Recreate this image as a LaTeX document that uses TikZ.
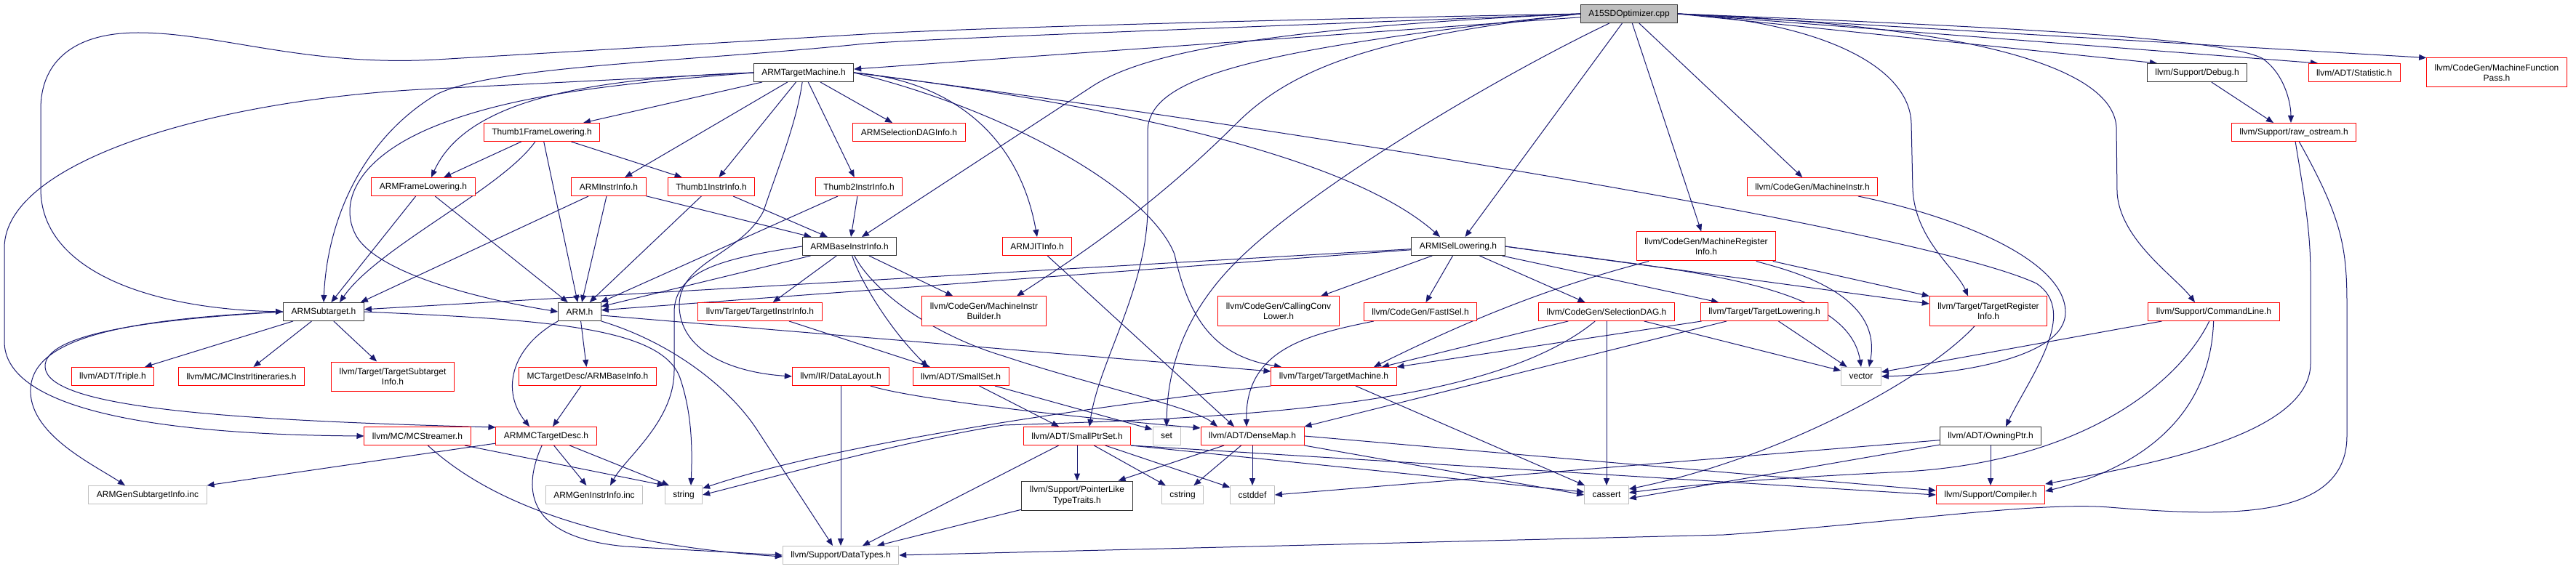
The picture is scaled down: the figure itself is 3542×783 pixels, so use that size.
\documentclass[tikz,border=0pt]{standalone}
\usepackage{fontspec}
\setmainfont{Liberation Sans}
\usetikzlibrary{arrows.meta}
\pgfdeclarelayer{bg}
\pgfsetlayers{bg,main}
\definecolor{edgec}{HTML}{191970}
\definecolor{grayb}{HTML}{BFBFBF}
\definecolor{redb}{HTML}{FF0000}
\tikzset{
  nb/.style={rectangle, draw, line width=1pt, fill=white, minimum height=25pt, inner xsep=11pt, inner ysep=1pt, align=center, font=\fontsize{12}{14.3}\selectfont},
  rb/.style={nb, draw=redb},
  kb/.style={nb, draw=black!80},
  gb/.style={nb, draw=grayb},
  fb/.style={nb, draw=black!80, fill=grayb},
  tall/.style={minimum height=40pt},
  edg/.style={draw=edgec, line width=1pt, -{Triangle[length=10pt,width=8pt]}},
}
\begin{document}
\begin{tikzpicture}[x=1pt,y=-1pt]
\useasboundingbox (0,0) rectangle (3542,783);
% nodes
\node[fb] (a15) at (2240,19) {A15SDOptimizer.cpp};
\node[kb] (atm) at (1105,100) {ARMTargetMachine.h};
\node[kb] (debug) at (3021,100) {llvm/Support/Debug.h};
\node[rb] (stat) at (3237,100) {llvm/ADT/Statistic.h};
\node[rb,tall] (mfp) at (3433,100) {llvm/CodeGen/MachineFunction\\Pass.h};
\node[rb] (t1fl) at (745,182) {Thumb1FrameLowering.h};
\node[rb] (sdi) at (1250,182) {ARMSelectionDAGInfo.h};
\node[rb] (raw) at (3154,182) {llvm/Support/raw\_ostream.h};
\node[rb] (afl) at (582,257) {ARMFrameLowering.h};
\node[rb] (ainstr) at (837,257) {ARMInstrInfo.h};
\node[rb] (t1ii) at (978,257) {Thumb1InstrInfo.h};
\node[rb] (t2ii) at (1181,257) {Thumb2InstrInfo.h};
\node[rb] (minstr) at (2492,257) {llvm/CodeGen/MachineInstr.h};
\node[kb] (abii) at (1168,339) {ARMBaseInstrInfo.h};
\node[rb] (jit) at (1426,339) {ARMJITInfo.h};
\node[kb] (isel) at (2005,339) {ARMISelLowering.h};
\node[rb,tall] (mri) at (2346,339) {llvm/CodeGen/MachineRegister\\Info.h};
\node[kb] (asub) at (445,429) {ARMSubtarget.h};
\node[kb] (armh) at (797,429) {ARM.h};
\node[rb] (tii) at (1045,429) {llvm/Target/TargetInstrInfo.h};
\node[rb,tall] (mib) at (1353,428) {llvm/CodeGen/MachineInstr\\Builder.h};
\node[rb,tall] (ccl) at (1758,428) {llvm/CodeGen/CallingConv\\Lower.h};
\node[rb] (fisel) at (1953,429) {llvm/CodeGen/FastISel.h};
\node[rb] (sdag) at (2209,429) {llvm/CodeGen/SelectionDAG.h};
\node[rb] (tlow) at (2426,429) {llvm/Target/TargetLowering.h};
\node[rb,tall] (tri) at (2734,428) {llvm/Target/TargetRegister\\Info.h};
\node[rb] (cl) at (3044,429) {llvm/Support/CommandLine.h};
\node[rb] (triple) at (155,518) {llvm/ADT/Triple.h};
\node[rb] (mcii) at (332,518) {llvm/MC/MCInstrItineraries.h};
\node[rb,tall] (tsi) at (540,518) {llvm/Target/TargetSubtarget\\Info.h};
\node[rb] (abi) at (808,518) {MCTargetDesc/ARMBaseInfo.h};
\node[rb] (dl) at (1156,518) {llvm/IR/DataLayout.h};
\node[rb] (sset) at (1321,518) {llvm/ADT/SmallSet.h};
\node[rb] (tm) at (1834,518) {llvm/Target/TargetMachine.h};
\node[gb] (vec) at (2559,518) {vector};
\node[rb] (mcs) at (574,600) {llvm/MC/MCStreamer.h};
\node[rb] (mctd) at (751,600) {ARMMCTargetDesc.h};
\node[rb] (sps) at (1481,600) {llvm/ADT/SmallPtrSet.h};
\node[gb] (set) at (1604,600) {set};
\node[rb] (dm) at (1722,600) {llvm/ADT/DenseMap.h};
\node[kb] (owp) at (2737,600) {llvm/ADT/OwningPtr.h};
\node[gb] (gsub) at (203,681) {ARMGenSubtargetInfo.inc};
\node[gb] (ginc) at (817,681) {ARMGenInstrInfo.inc};
\node[gb] (str) at (940,681) {string};
\node[kb,tall] (plt) at (1481,682) {llvm/Support/PointerLike\\TypeTraits.h};
\node[gb] (cstr) at (1626,681) {cstring};
\node[gb] (cdef) at (1722,681) {cstddef};
\node[gb] (cas) at (2209,681) {cassert};
\node[rb] (comp) at (2737,681) {llvm/Support/Compiler.h};
\node[gb] (dt) at (1156,764) {llvm/Support/DataTypes.h};
% edges
\begin{pgfonlayer}{bg}
% A15SDOptimizer.cpp
\draw[edg] (a15) -- (atm);
\draw[edg] (a15.west) .. controls (1700,28) and (1300,40) .. (1190,47) -- (600,82) .. controls (420,92) and (300,45) .. (190,45) .. controls (95,45) and (56,90) .. (56,150) -- (56,260) .. controls (56,370) and (200,425) .. (asub.west);
\draw[edg] (a15.west) .. controls (1650,40) and (1300,52) .. (1190,60) .. controls (950,85) and (680,90) .. (600,130) .. controls (500,190) and (450,300) .. (asub.north);
\draw[edg] (a15.west) .. controls (1700,40) and (1560,80) .. (1500,120) -- ([xshift=17pt]abii.north);
\draw[edg] (a15.west) .. controls (1900,50) and (1780,90) .. (1700,170) .. controls (1580,290) and (1470,360) .. ([xshift=45pt]mib.north);
\draw[edg] (a15.west) .. controls (1700,70) and (1580,110) .. (1578,180) -- (1578,290) .. controls (1576,400) and (1510,500) .. ([xshift=17pt]sps.north);
\draw[edg] (a15) .. controls (2050,110) and (1800,260) .. (1700,360) .. controls (1620,440) and (1605,520) .. (set.north);
\draw[edg] (a15) -- (isel);
\draw[edg] (a15) -- (mri);
\draw[edg] (a15) -- (minstr);
\draw[edg] (a15.east) .. controls (2500,30) and (2626,90) .. (2628,170) -- (2630,260) .. controls (2633,330) and (2690,370) .. ([xshift=-28pt]tri.north);
\draw[edg] (a15.east) .. controls (2700,35) and (2905,90) .. (2910,175) -- (2911,265) .. controls (2915,330) and (2990,380) .. ([xshift=-26pt]cl.north);
\draw[edg] (a15.east) .. controls (2700,35) and (3050,50) .. (3110,80) .. controls (3140,100) and (3150,140) .. ([xshift=-4pt]raw.north);
\draw[edg] (a15.east) -- ([xshift=-55pt]debug.north);
\draw[edg] (a15.east) -- ([xshift=-50pt]stat.north);
\draw[edg] (a15.east) -- (mfp.north west);
% ARMTargetMachine.h
\draw[edg] (atm.west) -- (600,122) .. controls (300,135) and (8,220) .. (6,340) -- (6,470) .. controls (6,560) and (200,598) .. (mcs.west);
\draw[edg] (atm.west) .. controls (850,115) and (700,130) .. (590,177) .. controls (490,220) and (465,280) .. (490,325) .. controls (520,375) and (650,410) .. (armh.west);
\draw[edg] (atm.west) .. controls (800,108) and (640,140) .. ([xshift=11pt]afl.north);
\draw[edg] (atm) -- (t1fl);
\draw[edg] (atm) -- (ainstr);
\draw[edg] (atm) -- (t1ii);
\draw[edg] (atm) -- (t2ii);
\draw[edg] (atm) -- (sdi);
\draw[edg] (atm) .. controls (1095,170) and (1070,230) .. (1050,290) .. controls (1020,350) and (934,360) .. (934,420) .. controls (934,480) and (1000,512) .. (dl.west);
\draw[edg] (atm.east) .. controls (1300,110) and (1400,180) .. (jit.north);
\draw[edg] (atm.east) .. controls (1500,140) and (1850,210) .. ([xshift=-25pt]isel.north);
\draw[edg] (atm.east) .. controls (1800,180) and (2650,320) .. (2800,390) .. controls (2860,430) and (2790,520) .. ([xshift=21pt]owp.north);
\draw[edg] (atm.east) .. controls (1380,150) and (1580,260) .. (1615,350) .. controls (1635,440) and (1670,490) .. ([xshift=-72pt]tm.north);
% frame lowering / instr info
\draw[edg] (afl) -- (asub);
\draw[edg] (afl) -- (armh);
\draw[edg] (t1fl) -- (afl);
\draw[edg] (t1fl) .. controls (690,260) and (520,340) .. ([xshift=22pt]asub.north);
\draw[edg] (t1fl) -- (armh);
\draw[edg] (t1fl) -- (t1ii);
\draw[edg] (ainstr) -- (abii);
\draw[edg] (ainstr) -- (armh);
\draw[edg] (ainstr) -- ([xshift=-5pt]asub.north east);
\draw[edg] (t1ii) -- (armh);
\draw[edg] (t1ii) -- (abii);
\draw[edg] (t2ii) -- (armh);
\draw[edg] (t2ii) -- (abii);
% ARMBaseInstrInfo.h
\draw[edg] (abii) -- (armh);
\draw[edg] (abii.west) .. controls (1000,355) and (927,370) .. (927,430) -- (927,510) .. controls (927,580) and (860,630) .. ([xshift=22pt]ginc.north);
\draw[edg] (abii) -- (tii);
\draw[edg] (abii) -- (mib);
\draw[edg] (abii) .. controls (1180,380) and (1220,450) .. ([xshift=-45pt]sset.north);
\draw[edg] (abii) .. controls (1200,400) and (1280,460) .. (1380,490) .. controls (1500,530) and (1640,560) .. ([xshift=-48pt]dm.north);
\draw[edg] (jit) -- ([xshift=-25pt]dm.north);
% ARMISelLowering.h
\draw[edg] (isel) -- (asub);
\draw[edg] (isel) -- (armh);
\draw[edg] (isel) -- ([xshift=58pt]ccl.north);
\draw[edg] (isel) -- (fisel);
\draw[edg] (isel) -- (sdag);
\draw[edg] (isel) -- ([xshift=-63pt]tlow.north);
\draw[edg] (isel.east) -- ([yshift=10pt]tri.west);
\draw[edg] (isel.east) .. controls (2300,372) and (2540,385) .. (vec.north);
% MachineRegisterInfo / MachineInstr
\draw[edg] (mri) .. controls (2150,390) and (2040,430) .. ([xshift=55pt]tm.north);
\draw[edg] (mri) -- (tri.north west);
\draw[edg] (mri) .. controls (2450,370) and (2590,400) .. ([xshift=11pt]vec.north);
\draw[edg] (minstr) .. controls (2700,300) and (2840,360) .. (2840,430) .. controls (2840,490) and (2700,515) .. (vec.east);
% SelectionDAG / TargetLowering / TargetRegisterInfo
\draw[edg] (sdag) -- ([xshift=66pt]tm.north);
\draw[edg] (sdag) .. controls (2050,560) and (1700,575) .. (1380,585) .. controls (1250,605) and (1050,660) .. (str.east);
\draw[edg] (sdag) -- (cas);
\draw[edg] (sdag) -- ([yshift=8pt]vec.west);
\draw[edg] (tlow) -- (tm.north east);
\draw[edg] (tlow) -- (dm.north east);
\draw[edg] (tlow) -- (vec);
\draw[edg] (tri) .. controls (2650,520) and (2450,630) .. ([yshift=8pt]cas.east);
% CommandLine / raw_ostream / Debug
\draw[edg] (cl) -- ([yshift=6pt]vec.east);
\draw[edg] (cl) .. controls (3000,520) and (2870,640) .. (2600,650) .. controls (2400,660) and (2300,670) .. ([yshift=3pt]cas.east);
\draw[edg] (cl) .. controls (3040,560) and (2960,640) .. ([yshift=5pt]comp.east);
\draw[edg] (raw) .. controls (3170,280) and (3177,320) .. (3177,380) -- (3177,500) .. controls (3177,600) and (2950,640) .. ([yshift=15pt]comp.east);
\draw[edg] (raw) .. controls (3220,300) and (3227,340) .. (3227,420) -- (3227,600) .. controls (3227,720) and (3050,710) .. (2900,698) .. controls (2800,690) and (2600,720) .. (2370,736) -- (dt.east);
\draw[edg] (debug) -- ([xshift=-28pt]raw.north);
% OwningPtr
\draw[edg] (owp) -- (comp);
\draw[edg] (owp) -- ([yshift=-5pt]cas.east);
\draw[edg] (owp) -- (cdef.east);
% TargetMachine / DataLayout / SmallSet / TargetInstrInfo / FastISel
\draw[edg] (tm) -- (cas);
\draw[edg] (tm.south west) .. controls (1500,560) and (1150,610) .. ([yshift=9pt]str.east);
\draw[edg] (dl) -- (dt);
\draw[edg] (dl) .. controls (1250,548) and (1450,572) .. ([yshift=-2pt]dm.north west);
\draw[edg] (sset) -- ([xshift=-25pt]sps.north);
\draw[edg] (sset) -- ([yshift=9pt]set.west);
\draw[edg] (tii) -- ([xshift=-42pt]sset.north);
\draw[edg] (fisel) .. controls (1800,460) and (1712,480) .. ([xshift=-8pt]dm.north);
% SmallPtrSet / DenseMap / PointerLikeTypeTraits
\draw[edg] (sps) -- ([xshift=30pt]dt.north);
\draw[edg] (sps) -- (plt);
\draw[edg] (sps) -- (cstr);
\draw[edg] (sps) -- (cdef);
\draw[edg] (sps.south east) -- ([yshift=4pt]cas.west);
\draw[edg] (sps.south east) -- (comp.west);
\draw[edg] (dm) -- ([xshift=-20pt]plt.north east);
\draw[edg] (dm) -- (cstr);
\draw[edg] (dm) -- (cdef);
\draw[edg] (dm.south east) -- (cas.west);
\draw[edg] (dm.east) -- ([yshift=6pt]comp.west);
\draw[edg] (plt) -- ([xshift=50pt]dt.north);
% ARM.h
\draw[edg] (armh) -- (abi);
\draw[edg] (armh.south west) .. controls (700,480) and (690,540) .. ([xshift=-23pt]mctd.north);
\draw[edg] (armh.south east) .. controls (920,470) and (1000,530) .. (1040,590) -- ([xshift=-11pt]dt.north);
\draw[edg] ([yshift=-5pt]armh.east) -- ([yshift=7pt]tm.west);
\draw[edg] (abi) -- (mctd);
% ARMMCTargetDesc.h / MCStreamer.h
\draw[edg] (mctd) -- (gsub.north east);
\draw[edg] (mctd) -- (ginc);
\draw[edg] (mctd) -- ([xshift=-20pt]str.north);
\draw[edg] (mctd) .. controls (715,680) and (730,740) .. (860,752) -- (dt.west);
\draw[edg] (mcs) -- (str.north west);
\draw[edg] (mcs) .. controls (640,660) and (760,745) .. ([yshift=-2pt]dt.west);
% ARMSubtarget.h
\draw[edg] (asub) -- ([xshift=44pt]triple.north);
\draw[edg] (asub) -- (mcii);
\draw[edg] (asub) -- (tsi);
\draw[edg] (asub.west) .. controls (200,440) and (60,460) .. (62,505) .. controls (65,560) and (300,578) .. ([yshift=12pt]mctd.west);
\draw[edg] (asub.west) .. controls (150,440) and (40,470) .. (42,540) .. controls (44,600) and (130,640) .. ([xshift=-31pt]gsub.north);
\draw[edg] (asub.east) .. controls (750,440) and (910,450) .. (935,520) .. controls (952,570) and (952,620) .. ([xshift=10pt]str.north);
\end{pgfonlayer}
\end{tikzpicture}
\end{document}
